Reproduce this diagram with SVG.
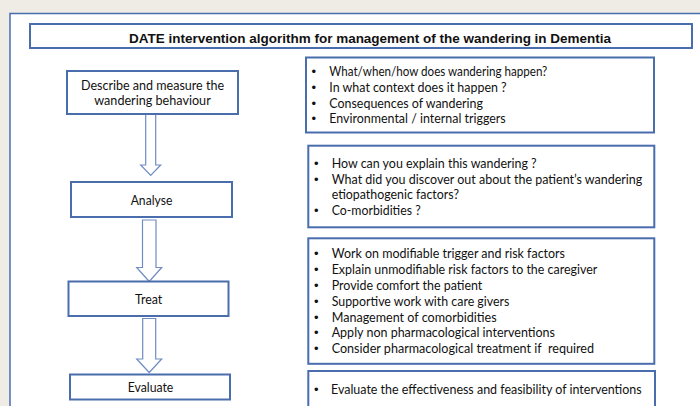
<svg xmlns="http://www.w3.org/2000/svg" width="700" height="406" viewBox="0 0 700 406">
<style>
.frame{fill:#ffffff;stroke:#4a6dae;stroke-width:1.5}
.box{fill:#ffffff;stroke:#4a6dae;stroke-width:2}
.arrow{fill:#ffffff;stroke:#6f8cc4;stroke-width:1.2;stroke-linejoin:miter}
.t{font-family:Lato,"Liberation Sans",sans-serif;font-size:13.3px;fill:#111111}
.b{font-family:"Liberation Sans",Arial,sans-serif;font-size:13px;fill:#111111}
.c{text-anchor:middle}
.title{font-family:"Liberation Sans",Arial,sans-serif;font-size:13px;font-weight:bold;fill:#111111;text-anchor:middle}
</style>
<rect x="0" y="0" width="700" height="406" fill="#efece6"/>
<rect class="frame" x="10" y="13.5" width="700" height="400"/>
<g id="title">
<rect class="box" x="30" y="24" width="662" height="24"/>
<text class="title" x="370" y="42.5" textLength="482" lengthAdjust="spacingAndGlyphs">DATE intervention algorithm for management of the wandering in Dementia</text>
</g>
<g id="connectors">
<polygon class="arrow" points="145.7,114 155.7,114 155.7,165 160.7,165 150.7,175.5 140.7,165 145.7,165"/>
<polygon class="arrow" points="142.5,220 156,220 156,267.5 161.7,267.5 149.2,281.5 136.7,267.5 142.5,267.5"/>
<polygon class="arrow" points="142.7,318.5 155.7,318.5 155.7,359 161.7,359 149.2,372.5 136.7,359 142.7,359"/>
</g>
<g id="describe">
<rect class="box" x="67" y="71" width="171" height="43"/>
<text class="t c" x="152.5" y="89.5" textLength="143" lengthAdjust="spacingAndGlyphs">Describe and measure the</text>
<text class="t c" x="152.5" y="104.5" textLength="116.5" lengthAdjust="spacingAndGlyphs">wandering behaviour</text>
</g>
<g id="analyse">
<rect class="box" x="71" y="182" width="161" height="35"/>
<text class="t c" x="151.5" y="204.5" textLength="41.6" lengthAdjust="spacingAndGlyphs">Analyse</text>
</g>
<g id="treat">
<rect class="box" x="68.5" y="281.5" width="160" height="34.5"/>
<text class="t c" x="148.6" y="303.5" textLength="27.3" lengthAdjust="spacingAndGlyphs">Treat</text>
</g>
<g id="evaluate">
<rect class="box" x="70" y="374.5" width="160" height="25"/>
<text class="t c" x="150.5" y="391.5" textLength="45.6" lengthAdjust="spacingAndGlyphs">Evaluate</text>
</g>
<g id="describe-notes">
<rect class="box" x="306" y="57.5" width="348" height="75"/>
<text class="b" x="311.5" y="76">•</text>
<text class="t" x="329.3" y="76" textLength="218" lengthAdjust="spacingAndGlyphs">What/when/how does wandering happen?</text>
<text class="b" x="311.5" y="92">•</text>
<text class="t" x="329.3" y="92" textLength="177.4" lengthAdjust="spacingAndGlyphs">In what context does it happen ?</text>
<text class="b" x="311.5" y="107.5">•</text>
<text class="t" x="329.3" y="107.5" textLength="153.7" lengthAdjust="spacingAndGlyphs">Consequences of wandering</text>
<text class="b" x="311.5" y="123.3">•</text>
<text class="t" x="329.3" y="123.3" textLength="176.4" lengthAdjust="spacingAndGlyphs">Environmental / internal triggers</text>
</g>
<g id="analyse-notes">
<rect class="box" x="308.3" y="145.7" width="346" height="81.6"/>
<text class="b" x="314" y="167.7">•</text>
<text class="t" x="331.7" y="167.7" textLength="205" lengthAdjust="spacingAndGlyphs">How can you explain this wandering ?</text>
<text class="b" x="314" y="183.7">•</text>
<text class="t" x="331.7" y="183.7" textLength="310.6" lengthAdjust="spacingAndGlyphs">What did you discover out about the patient’s wandering</text>
<text class="t" x="331.7" y="199.4" textLength="127.3" lengthAdjust="spacingAndGlyphs">etiopathogenic factors?</text>
<text class="b" x="314" y="215.2">•</text>
<text class="t" x="331.7" y="215.2" textLength="89" lengthAdjust="spacingAndGlyphs">Co-morbidities ?</text>
</g>
<g id="treat-notes">
<rect class="box" x="308.3" y="238.3" width="346" height="125.5"/>
<text class="b" x="314" y="258">•</text>
<text class="t" x="331.7" y="258" textLength="233.3" lengthAdjust="spacingAndGlyphs">Work on modifiable trigger and risk factors</text>
<text class="b" x="314" y="274">•</text>
<text class="t" x="331.7" y="274" textLength="265.6" lengthAdjust="spacingAndGlyphs">Explain unmodifiable risk factors to the caregiver</text>
<text class="b" x="314" y="290">•</text>
<text class="t" x="331.7" y="290" textLength="150.6" lengthAdjust="spacingAndGlyphs">Provide comfort the patient</text>
<text class="b" x="314" y="305.7">•</text>
<text class="t" x="331.7" y="305.7" textLength="177.6" lengthAdjust="spacingAndGlyphs">Supportive work with care givers</text>
<text class="b" x="314" y="321.5">•</text>
<text class="t" x="331.7" y="321.5" textLength="165" lengthAdjust="spacingAndGlyphs">Management of comorbidities</text>
<text class="b" x="314" y="337.3">•</text>
<text class="t" x="331.7" y="337.3" textLength="223.3" lengthAdjust="spacingAndGlyphs">Apply non pharmacological interventions</text>
<text class="b" x="314" y="353">•</text>
<text class="t" x="331.7" y="353" textLength="262.3" lengthAdjust="spacingAndGlyphs" xml:space="preserve">Consider pharmacological treatment if  required</text>
</g>
<g id="evaluate-notes">
<rect class="box" x="308.3" y="371" width="346.7" height="40"/>
<text class="b" x="314" y="393.5">•</text>
<text class="t" x="331" y="393.5" textLength="310.7" lengthAdjust="spacingAndGlyphs">Evaluate the effectiveness and feasibility of interventions</text>
</g>
</svg>
